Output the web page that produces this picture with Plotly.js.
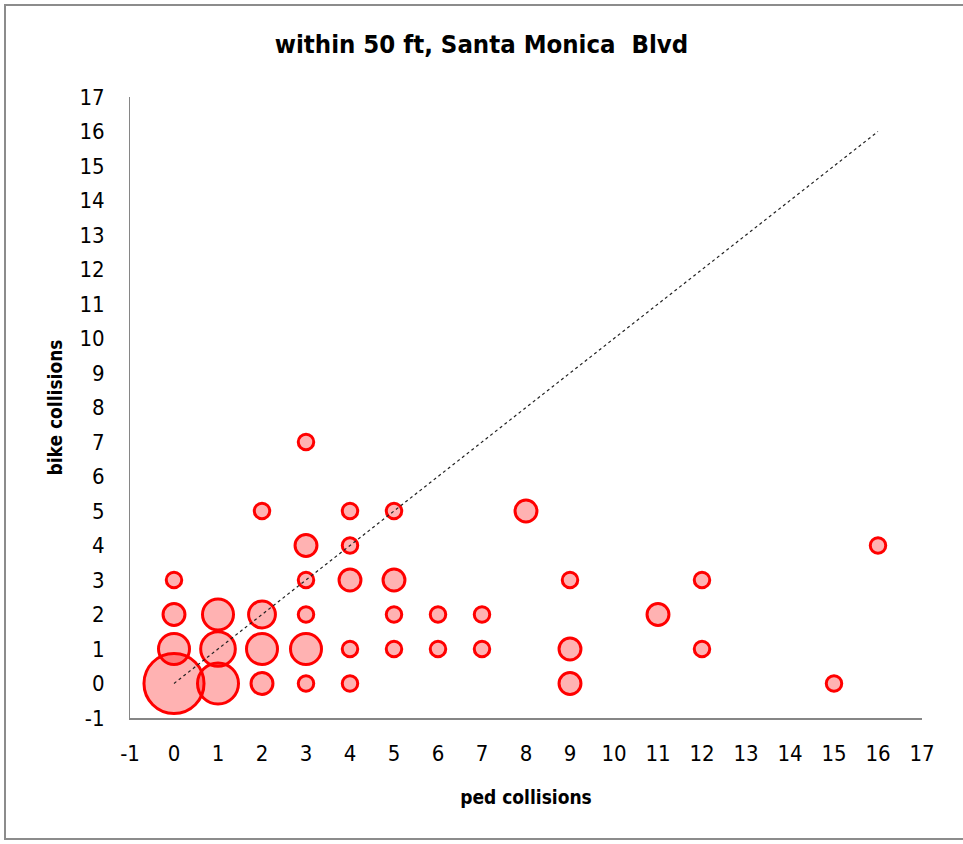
<!DOCTYPE html>
<html>
<head>
<meta charset="utf-8">
<script src="https://cdn.plot.ly/plotly-3.0.1.min.js"></script>
<style>
html,body{margin:0;padding:0;background:#fff;}
#frame{position:absolute;left:4px;top:4px;width:980px;height:836px;border:2px solid #8c8c8c;box-sizing:border-box;}
#chart{position:absolute;left:0;top:0;width:963px;height:844px;}
</style>
</head>
<body>
<div id="frame"></div>
<div id="chart"></div>
<script>
// ped collisions (x), bike collisions (y), number of locations (bubble size)
var ped   = [0, 1, 0, 1, 1, 0, 0, 2, 2, 2, 2, 3, 3, 3, 3, 3, 3, 4, 4, 4, 4, 4, 5, 5, 5, 5, 6, 6, 7, 7, 8, 9, 9, 9, 11, 12, 12, 15, 16];
var bike  = [0, 0, 1, 1, 2, 2, 3, 0, 1, 2, 5, 0, 1, 2, 3, 4, 7, 0, 1, 3, 4, 5, 1, 2, 3, 5, 1, 2, 1, 2, 5, 0, 1, 3, 2, 1, 3, 0, 4];
var count = [15, 7, 4, 5, 4, 2, 1, 2, 4, 3, 1, 1, 4, 1, 1, 2, 1, 1, 1, 2, 1, 1, 1, 1, 2, 1, 1, 1, 1, 1, 2, 2, 2, 1, 2, 1, 1, 1, 1];
var refX = [0, 16];
var refY = [0, 16];
var tickVals = [-1,0,1,2,3,4,5,6,7,8,9,10,11,12,13,14,15,16,17];

var fontFam = "'Liberation Sans Narrow', 'DejaVu Sans Condensed', sans-serif";

var bubbles = {
  type: 'scatter', mode: 'markers', x: ped, y: bike,
  marker: {
    size: count, sizemode: 'area', sizeref: 4/(2*15.5*15.5),
    color: 'rgba(255,0,0,0.30)', opacity: 1,
    line: {color: 'rgb(255,0,0)', width: 3}
  },
  hoverinfo: 'x+y', showlegend: false
};
var ref = {
  type: 'scatter', mode: 'lines', x: refX, y: refY,
  line: {color: '#222222', width: 1.2, dash: '3px,3px'},
  showlegend: false, hoverinfo: 'skip'
};

var layout = {
  width: 963, height: 844,
  margin: {l: 130, r: 41, t: 97, b: 126},
  paper_bgcolor: 'rgba(0,0,0,0)', plot_bgcolor: 'rgba(0,0,0,0)',
  font: {family: fontFam, color: '#000', size: 22},
  title: {text: 'within 50 ft, Santa Monica  Blvd', x: 0.5, xanchor: 'center', y: 0.948, yanchor: 'middle',
          font: {family: fontFam, size: 25.5, color: '#000', weight: 'bold'}},
  xaxis: {
    range: [-1, 17], tickvals: tickVals, ticktext: tickVals.map(String),
    showgrid: false, zeroline: false, showline: true, linecolor: '#868686', linewidth: 2,
    ticks: '', ticklabelstandoff: 15, tickfont: {size: 22},
    title: {text: 'ped collisions', standoff: 25, font: {size: 19, weight: 'bold'}}
  },
  yaxis: {
    range: [-1, 17], tickvals: tickVals, ticktext: tickVals.map(String),
    showgrid: false, zeroline: false, showline: true, linecolor: '#868686', linewidth: 1,
    ticks: '', ticklabelstandoff: 20, tickfont: {size: 22},
    title: {text: 'bike collisions', standoff: 11, font: {size: 19, weight: 'bold'}}
  }
};
Plotly.newPlot('chart', [bubbles, ref], layout, {displayModeBar: false, staticPlot: true});
</script>
</body>
</html>
